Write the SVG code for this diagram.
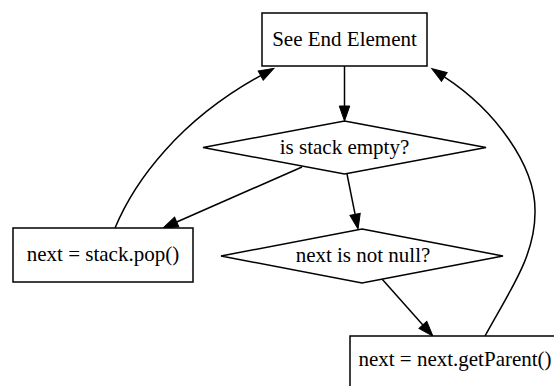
<svg xmlns="http://www.w3.org/2000/svg" width="554" height="386" viewBox="0 0 554 386">
<style>
.node{fill:#fff;stroke:#000;stroke-width:1.5}
.lbl{font-family:"Liberation Serif","Times New Roman",serif;font-size:21px;fill:#000;text-anchor:middle}
.edge{fill:none;stroke:#000;stroke-width:1.5;marker-end:url(#ah)}
</style>
<defs>
<marker id="ah" markerUnits="userSpaceOnUse" markerWidth="16" markerHeight="12" refX="0" refY="5.25" orient="auto" overflow="visible">
<path d="M0,0 L15,5.25 L0,10.5 z" fill="#000" stroke="#000" stroke-width="1"/>
</marker>
</defs>
<rect width="554" height="386" fill="#fff"/>
<g id="connectors">
<path class="edge" d="M344.5,66 L344.5,106"/>
<path class="edge" d="M302,167 L176.7,222"/>
<path class="edge" d="M347,174 L355.1,214.3"/>
<path class="edge" d="M382,279 L422.9,324.9"/>
<path class="edge" d="M115,228 C135,180 180,120 260.7,75.6"/>
<path class="edge" d="M485,336 C510,290 536,255 535,210 C535,165 495,110 444.3,76.9"/>
</g>
<g id="see_end">
<rect class="node" x="262" y="13" width="165" height="53"/>
<text class="lbl" x="344.5" y="45.5">See End Element</text>
</g>
<g id="stack_empty">
<polygon class="node" points="344.5,121 486,147.5 344.5,174 203,147.5"/>
<text class="lbl" x="344.5" y="153.5">is stack empty?</text>
</g>
<g id="stack_pop">
<rect class="node" x="13" y="228" width="180" height="54"/>
<text class="lbl" x="103" y="261">next = stack.pop()</text>
</g>
<g id="not_null">
<polygon class="node" points="362,229 503,256 362,283 221,256"/>
<text class="lbl" x="363" y="262">next is not null?</text>
</g>
<g id="get_parent">
<rect class="node" x="350" y="336" width="210" height="60"/>
<text class="lbl" x="455" y="366">next = next.getParent()</text>
</g>
</svg>
